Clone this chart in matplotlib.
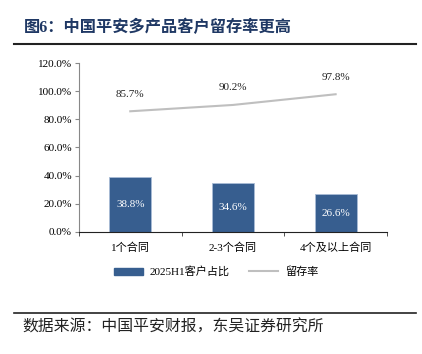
import matplotlib.pyplot as plt
from matplotlib.lines import Line2D
import numpy as np

plt.rcParams['font.family'] = ['Liberation Serif', 'Noto Sans CJK SC']

categories = ['1个合同', '2-3个合同', '4个及以上合同']
share = [38.8, 34.6, 26.6]
retention = [85.7, 90.2, 97.8]
yticks = [0, 20, 40, 60, 80, 100, 120]

fig = plt.figure(figsize=(4.22, 3.54), dpi=100)
ax = fig.add_axes([0.187, 0.345, 0.730, 0.477])

x = np.arange(len(categories))
ax.bar(x, share, width=0.41, color='#375E8F', edgecolor='#A9BCD6', linewidth=0.6,
       label='2025H1客户占比', zorder=2)
for xi, v in zip(x, share):
    ax.text(xi, v / 2, f'{v:.1f}%', ha='center', va='center', color='white', fontsize=8)

ax.plot(x, retention, color='#BFBFBF', linewidth=1.5, label='留存率', zorder=3)
for xi, v in zip(x, retention):
    ax.annotate(f'{v:.1f}%', (xi, v), xytext=(0, 9), textcoords='offset points',
                ha='center', va='bottom', fontsize=8, color='#222222')

ax.set_xlim(-0.5, 2.5)
ax.set_ylim(0, 120)
ax.set_yticks(yticks)
ax.set_yticklabels([f'{t:.1f}%' for t in yticks], fontsize=8)
ax.set_xticks(x)
ax.set_xticklabels(categories, fontsize=8)
ax.tick_params(axis='x', length=0, pad=8)
ax.set_xticks([-0.5, 0.5, 1.5, 2.5], minor=True)
ax.tick_params(axis='x', which='minor', length=3, color='#333333')
ax.tick_params(axis='y', length=3, color='#888888', pad=2)
for s in ['top', 'right']:
    ax.spines[s].set_visible(False)
ax.spines['left'].set_color('#888888')
ax.spines['bottom'].set_color('#222222')

handles = [plt.Rectangle((0, 0), 1, 1, color='#375E8F'),
           Line2D([0], [0], color='#BFBFBF', linewidth=1.5)]
fig.legend(handles, ['2025H1客户占比', '留存率'], loc='center', bbox_to_anchor=(0.512, 0.232),
           ncol=2, frameon=False, fontsize=8, handlelength=2.6, handleheight=0.7,
           handletextpad=0.6, columnspacing=1.8)

fig.text(0.057, 0.92, '图6：中国平安多产品客户留存率更高', fontsize=11.7, fontweight='bold',
         color='#1F3864', va='center')
fig.add_artist(Line2D([0.033, 0.986], [0.876, 0.876], color='#222222', linewidth=1.5))
fig.add_artist(Line2D([0.033, 0.986], [0.116, 0.116], color='#222222', linewidth=1.2))
fig.text(0.052, 0.075, '数据来源：中国平安财报，东吴证券研究所', fontsize=11.4, color='#222222',
         va='center')

fig.savefig('out.png', dpi=100)
